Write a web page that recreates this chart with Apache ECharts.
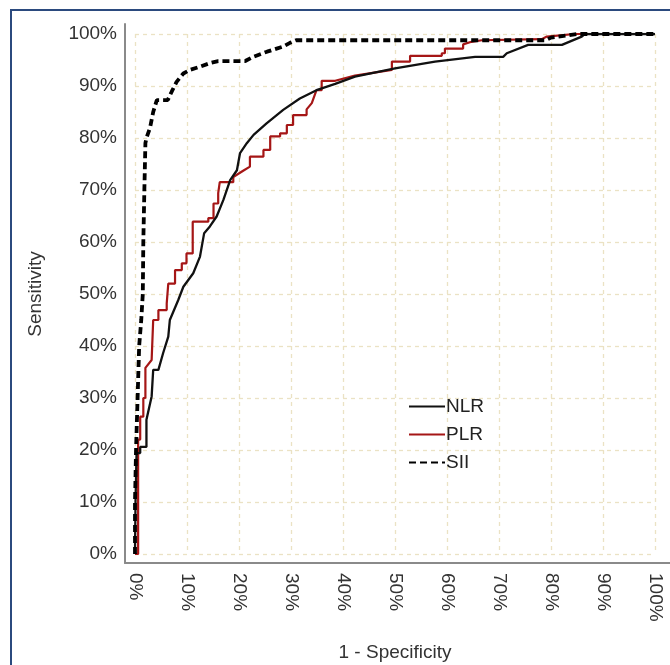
<!DOCTYPE html>
<html><head><meta charset="utf-8">
<script src="https://cdn.jsdelivr.net/npm/echarts@6/dist/echarts.min.js"></script>
<style>html,body{margin:0;padding:0;background:#fff}#c{width:670px;height:665px}</style>
</head><body><div id="c"></div>
<script>
// ROC curves: [1 - specificity (%), sensitivity (%)]
const nlr = [[0,0],[0.1,10],[0.3,19.4],[1,19.4],[1,20.6],[2.2,20.6],[2.2,25.8],[3.2,30.3],[3.5,35.4],[4.5,35.4],[5.4,38.6],[6.4,41.8],[6.7,45],[8.3,48.8],[9.3,51.4],[11.2,54],[12.5,57.2],[13.3,61.7],[14.4,63],[15.7,64.9],[17,68.1],[18.3,71.9],[19.6,73.8],[20.2,77.1],[21.5,79],[22.8,80.6],[25.3,82.8],[28.5,85.4],[31.7,87.6],[34.9,89.2],[38.5,90.4],[42.3,91.8],[50,93.4],[57.7,94.7],[65.4,95.6],[70.8,95.6],[71.5,96.3],[75.6,97.9],[82.1,97.9],[85.9,99.5],[86.5,100],[100,100]];
const plr = [[0,0],[0.6,0],[0.6,5.3],[0.6,22],[1,22],[1,26.4],[1.6,26.4],[1.6,30],[2,30],[2,35.8],[3.2,37.3],[3.5,37.3],[3.5,45],[4.5,45],[4.5,46.9],[6.1,46.9],[6.1,48.2],[6.4,48.2],[6.4,52],[7.7,52],[7.7,54.6],[9,54.6],[9,55.9],[9.9,55.9],[9.9,57.8],[11.1,57.8],[11.1,63.9],[14.1,63.9],[14.1,64.6],[15.1,64.6],[15.1,67.4],[16,67.4],[16,69.4],[16.3,69.4],[16.3,71.5],[18.9,71.5],[18.9,72.5],[20.8,73.7],[22.1,74.5],[22.1,76.4],[24.7,76.4],[24.7,77.7],[26,77.7],[26,80.3],[27.9,80.3],[27.9,80.9],[29.2,80.9],[29.2,82.5],[30.4,82.5],[30.4,84.4],[33,84.4],[33,85.5],[34,86.7],[34.9,89.2],[35.9,89.2],[35.9,91],[38.5,91],[42.3,92],[49.4,93.1],[49.4,94.7],[52.9,94.7],[52.9,95.8],[59,95.8],[59,96.3],[59.6,96.3],[59.6,97.2],[63.1,97.2],[63.1,98],[64.7,98.5],[66.7,98.8],[78.2,99],[79.2,99.5],[84.6,100],[100,100]];
const sii = [[0,0],[0,10],[0.2,20],[0.5,30],[0.8,40],[1.2,45],[1.5,50],[1.6,60],[1.8,70],[2.0,79],[2.2,80],[2.9,82],[3.5,85],[4.2,87.3],[6.3,87.3],[7.1,89],[8.0,90.8],[9.3,92.4],[10.6,93.1],[12.5,93.7],[14.4,94.4],[16,94.8],[21.2,94.8],[22.7,95.6],[25.4,96.6],[28.5,97.6],[29.8,98.3],[31,98.8],[79,98.8],[80,99.3],[85,100],[100,100]];
const seriesNames = ['NLR','PLR','SII'];
const xTitle = '1 - Specificity';
const yTitle = 'Sensitivity';

const chart = echarts.init(document.getElementById('c'), null, {renderer:'canvas'});
const font = 'Liberation Sans, Arial, sans-serif';
const gridLine = {show:true, lineStyle:{color:'#ebe2c4', type:[4,4], width:1.3}};
chart.setOption({
  animation:false,
  backgroundColor:'#fff',
  graphic:[{type:'rect', shape:{x:11,y:10,width:700,height:700}, style:{fill:'none', stroke:'#2b4a7e', lineWidth:2}, silent:true, z:-1}],
  grid:[
    {left:135, right:15, top:34, bottom:111, containLabel:false, outerBoundsMode:'none'},
    {left:125, right:0, top:24, bottom:102, containLabel:false, outerBoundsMode:'none'}
  ],
  xAxis:[
    {gridIndex:0, type:'value', min:0, max:100, interval:10, offset:9,
     axisLine:{show:false}, axisTick:{show:false}, splitLine:gridLine,
     axisLabel:{rotate:-90, margin:10, formatter:'{value}%', color:'#333', fontSize:19, fontFamily:font},
     name:xTitle, nameLocation:'middle', nameGap:80,
     nameTextStyle:{color:'#333', fontSize:19, fontFamily:font}},
    {gridIndex:1, type:'value', min:0, max:1, axisLine:{show:true, lineStyle:{color:'#8a8a8a', width:2}},
     axisTick:{show:false}, axisLabel:{show:false}, splitLine:{show:false}}
  ],
  yAxis:[
    {gridIndex:0, type:'value', min:0, max:100, interval:10, offset:10,
     axisLine:{show:false}, axisTick:{show:false}, splitLine:gridLine,
     axisLabel:{margin:8, formatter:'{value}%', color:'#333', fontSize:19, fontFamily:font},
     name:yTitle, nameLocation:'middle', nameGap:80,
     nameTextStyle:{color:'#333', fontSize:19, fontFamily:font}},
    {gridIndex:1, type:'value', min:0, max:1, axisLine:{show:true, lineStyle:{color:'#8a8a8a', width:2}},
     axisTick:{show:false}, axisLabel:{show:false}, splitLine:{show:false}}
  ],
  legend:{
    orient:'vertical', left:403, top:392, itemWidth:36, itemHeight:19, itemGap:9,
    data:seriesNames, itemStyle:{opacity:0},
    textStyle:{color:'#222', fontSize:19, fontFamily:font, padding:[0,0,0,-4]}
  },
  series:[
    {name:seriesNames[0], type:'line', data:nlr, symbol:'none', lineStyle:{color:'#111', width:2.3}, itemStyle:{color:'#111'}, z:3},
    {name:seriesNames[1], type:'line', data:plr, symbol:'none', lineStyle:{color:'#a51616', width:2.2}, itemStyle:{color:'#a51616'}, z:2},
    {name:seriesNames[2], type:'line', data:sii, symbol:'none', lineStyle:{color:'#000', width:3.8, type:[7,4]}, itemStyle:{color:'#000'}, z:4}
  ]
});
</script></body></html>
